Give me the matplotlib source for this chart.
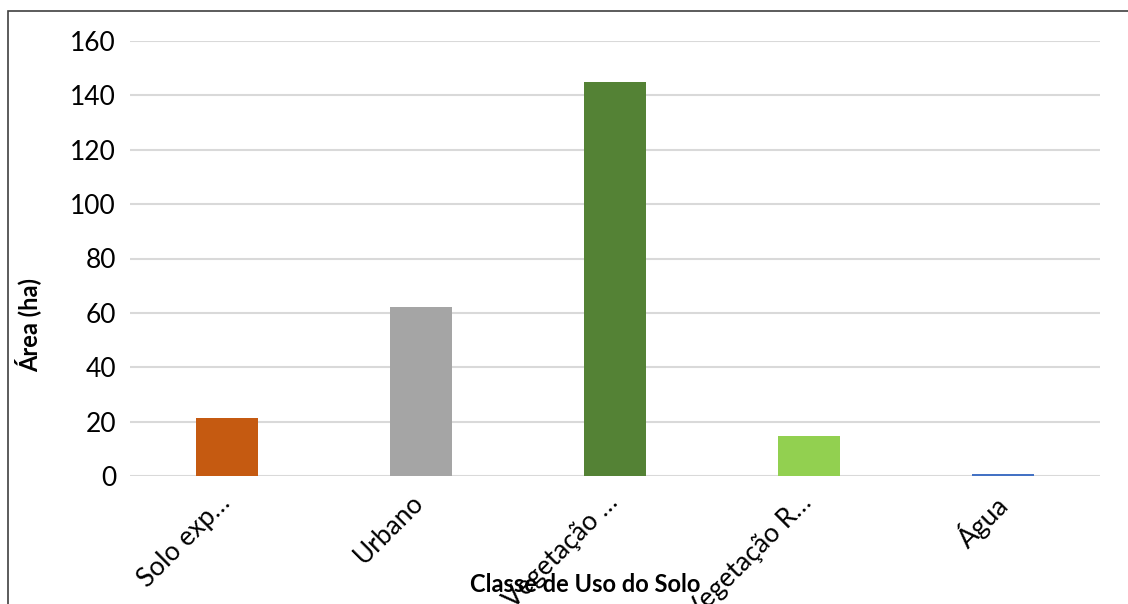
import matplotlib.pyplot as plt
from matplotlib.patches import Rectangle
from matplotlib.transforms import ScaledTranslation

# data
classes = ["Solo exp…", "Urbano", "Vegetação …", "Vegetação R…", "Água"]
area_ha = [21.3, 62.0, 145.0, 14.7, 0.8]
colors = ["#C55A11", "#A5A5A5", "#548235", "#92D050", "#4472C4"]
yticks = [0, 20, 40, 60, 80, 100, 120, 140, 160]

plt.rcParams['font.family'] = ['Lato', 'DejaVu Sans']

fig = plt.figure(figsize=(11.28, 6.04), dpi=100)
ax = fig.add_axes([130/1128, 1-476/604, 970/1128, 435/604])

x = range(len(classes))
ax.bar(x, area_ha, width=0.32, color=colors, zorder=3)
ax.set_xlim(-0.5, len(classes)-0.5)
ax.set_ylim(0, 160)
ax.set_yticks(yticks)
ax.yaxis.grid(True, color="#d9d9d9", linewidth=1.5, zorder=0)
ax.set_axisbelow(True)
for s in ax.spines.values():
    s.set_visible(False)
ax.tick_params(axis="both", length=0, labelsize=19, pad=10)
ax.set_xticks(list(x))
ax.set_xticklabels(classes, rotation=45, ha="right", rotation_mode="anchor")
ax.tick_params(axis="x", pad=10)
shift = ScaledTranslation(-0.1, 0, fig.dpi_scale_trans)
for lab in ax.get_xticklabels():
    lab.set_transform(lab.get_transform() + shift)

fig.text(585/1128, 1-585/604, "Classe de Uso do Solo", ha="center", va="center",
         fontsize=17, fontweight="bold")
fig.text(28/1128, 1-325/604, "Área (ha)", ha="center", va="center",
         rotation=90, fontsize=17, fontweight="bold")

# chart-area border (cut off at right and bottom in the reference)
fig.patches.append(Rectangle((8/1128, -0.1), 1.2, 1.1-11/604, transform=fig.transFigure,
                             fill=False, edgecolor="#404040", linewidth=1.2))

plt.savefig("out.png", dpi=100)
